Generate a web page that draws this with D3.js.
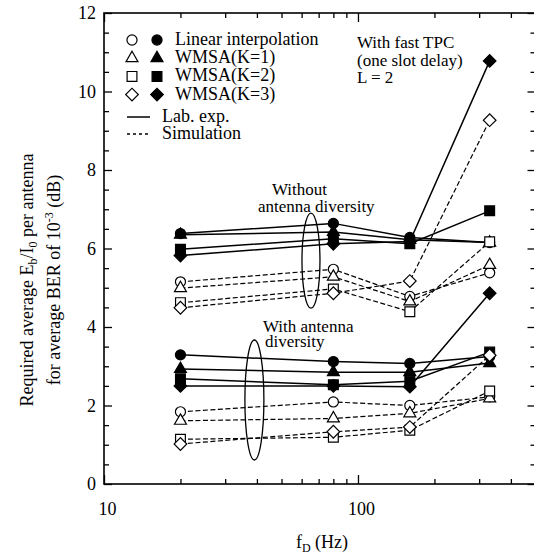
<!DOCTYPE html>
<html>
<head>
<meta charset="utf-8">
<script src="https://cdn.jsdelivr.net/npm/d3@7"></script>
<style>
  body { margin: 0; background: #fff; }
  svg { display: block; font-family: "Liberation Serif", "Times New Roman", serif; }
</style>
</head>
<body>
<div id="chart"></div>
<script>
// Doppler frequencies (Hz)
const fD = [20, 80, 160, 330];

// Without antenna diversity
const linLabNoDiv = [6.38, 6.64, 6.28, 6.15];
const k1LabNoDiv = [6.35, 6.42, 6.22, 6.15];
const k2LabNoDiv = [5.98, 6.25, 6.12, 6.96];
const k3LabNoDiv = [5.82, 6.12, 6.18, 10.78];
const linSimNoDiv = [5.15, 5.47, 4.78, 5.38];
const k1SimNoDiv = [4.99, 5.28, 4.65, 5.58];
const k2SimNoDiv = [4.62, 4.97, 4.39, 6.17];
const k3SimNoDiv = [4.49, 4.86, 5.17, 9.27];

// With antenna diversity
const linLabDiv = [3.29, 3.12, 3.07, 3.25];
const k1LabDiv = [2.93, 2.85, 2.85, 3.08];
const k2LabDiv = [2.68, 2.53, 2.62, 3.36];
const k3LabDiv = [2.50, 2.50, 2.48, 4.86];
const linSimDiv = [1.84, 2.09, 2.00, 2.22];
const k1SimDiv = [1.61, 1.67, 1.80, 2.18];
const k2SimDiv = [1.14, 1.19, 1.37, 2.37];
const k3SimDiv = [1.02, 1.33, 1.45, 3.28];

const methods = ["Linear interpolation", "WMSA(K=1)", "WMSA(K=2)", "WMSA(K=3)"];
const symbols = ["circle", "triangle", "square", "diamond"];
const xMajorTicks = [10, 100];
const xMinorTicks = [20, 30, 40, 50, 60, 70, 80, 90, 200, 300, 400];
const yMajorTicks = [0, 2, 4, 6, 8, 10, 12];

const labSeries = [
    [linLabNoDiv, k1LabNoDiv, k2LabNoDiv, k3LabNoDiv],
    [linLabDiv, k1LabDiv, k2LabDiv, k3LabDiv]
];
const simSeries = [
    [linSimNoDiv, k1SimNoDiv, k2SimNoDiv, k3SimNoDiv],
    [linSimDiv, k1SimDiv, k2SimDiv, k3SimDiv]
];

const W = 534, H = 554;
const margin = {top: 13, left: 104, bottom: 70, right: -1.5};
const width = W - margin.left - margin.right;
const height = H - margin.top - margin.bottom;

const svg = d3.select("#chart").append("svg")
    .attr("width", W)
    .attr("height", H);
const g = svg.append("g")
    .attr("transform", "translate(" + margin.left + "," + margin.top + ")");

const x = d3.scaleLog().domain([10, 500]).range([0, width]);
const y = d3.scaleLinear().domain([0, 12]).range([height, 0]);

const yMinorTicks = d3.range(0, 12.01, 0.5).filter(function (v) { return v % 2 !== 0; });

function styleAxis(sel) {
    sel.select(".domain").remove();
    sel.selectAll("line").attr("stroke", "#000").attr("stroke-width", 1.3);
    sel.selectAll("text").attr("fill", "#000").attr("font-size", 18)
        .attr("font-family", "Liberation Serif, serif");
}

// bottom axis
g.append("g").attr("transform", "translate(0," + height + ")")
    .call(d3.axisBottom(x).tickValues(xMajorTicks).tickFormat(d3.format("d"))
        .tickSizeInner(-9).tickSizeOuter(0).tickPadding(18))
    .call(styleAxis)
    .selectAll("text").attr("dx", 3);
g.append("g").attr("transform", "translate(0," + height + ")")
    .call(d3.axisBottom(x).tickValues(xMinorTicks).tickFormat("")
        .tickSizeInner(-5).tickSizeOuter(0))
    .call(styleAxis);
// top axis
g.append("g")
    .call(d3.axisTop(x).tickValues(xMajorTicks).tickFormat("").tickSizeInner(-9).tickSizeOuter(0))
    .call(styleAxis);
g.append("g")
    .call(d3.axisTop(x).tickValues(xMinorTicks).tickFormat("").tickSizeInner(-5).tickSizeOuter(0))
    .call(styleAxis);
// left axis
g.append("g")
    .call(d3.axisLeft(y).tickValues(yMajorTicks).tickSizeInner(-8).tickSizeOuter(0).tickPadding(8))
    .call(styleAxis);
g.append("g")
    .call(d3.axisLeft(y).tickValues(yMinorTicks).tickFormat("").tickSizeInner(-5).tickSizeOuter(0))
    .call(styleAxis);
// right axis
g.append("g").attr("transform", "translate(" + width + ",0)")
    .call(d3.axisRight(y).tickValues(yMajorTicks).tickFormat("").tickSizeInner(-8).tickSizeOuter(0))
    .call(styleAxis);
g.append("g").attr("transform", "translate(" + width + ",0)")
    .call(d3.axisRight(y).tickValues(yMinorTicks).tickFormat("").tickSizeInner(-5).tickSizeOuter(0))
    .call(styleAxis);

// frame
g.append("rect")
    .attr("width", width).attr("height", height)
    .attr("fill", "none").attr("stroke", "#000").attr("stroke-width", 1.6);

// markers
const symbolTypes = {
    circle: {type: d3.symbolCircle, size: 80, rot: 0},
    triangle: {type: d3.symbolTriangle, size: 62, rot: 0},
    square: {type: d3.symbolSquare, size: 96, rot: 0},
    diamond: {type: d3.symbolSquare, size: 80, rot: 45}
};

function drawMarkers(sel, vals, sym, filled, cx, cy) {
    let s = symbolTypes[sym];
    sel.append("path")
        .attr("d", d3.symbol().type(s.type).size(s.size)())
        .attr("transform", "translate(" + cx + "," + cy + ") rotate(" + s.rot + ")")
        .attr("fill", filled ? "#000" : "#fff")
        .attr("stroke", "#000")
        .attr("stroke-width", 1.2);
}

const line = d3.line()
    .x(function (d) { return x(d[0]); })
    .y(function (d) { return y(d[1]); });

function drawSeries(vals, sym, filled) {
    let pts = fD.map(function (f, i) { return [f, vals[i]]; });
    g.append("path")
        .datum(pts)
        .attr("fill", "none")
        .attr("stroke", "#000")
        .attr("stroke-width", filled ? 1.5 : 1.2)
        .attr("stroke-dasharray", filled ? null : "5,2.5")
        .attr("d", line);
    pts.forEach(function (p) {
        drawMarkers(g, vals, sym, filled, x(p[0]), y(p[1]));
    });
}

labSeries.forEach(function (grp) {
    grp.forEach(function (vals, i) { drawSeries(vals, symbols[i], true); });
});
simSeries.forEach(function (grp) {
    grp.forEach(function (vals, i) { drawSeries(vals, symbols[i], false); });
});

// ellipses marking the groups
g.append("ellipse")
    .attr("cx", x(65.3)).attr("cy", y(5.69)).attr("rx", 9).attr("ry", 47.5)
    .attr("fill", "none").attr("stroke", "#000").attr("stroke-width", 1.3);
g.append("ellipse")
    .attr("cx", x(39.1)).attr("cy", y(2.14)).attr("rx", 9.5).attr("ry", 60)
    .attr("fill", "none").attr("stroke", "#000").attr("stroke-width", 1.3);

// annotations
function label(txt, px, py, size) {
    svg.append("text")
        .attr("x", px).attr("y", py)
        .attr("font-size", size || 17)
        .attr("fill", "#000")
        .text(txt);
}
label("Without", 272, 195);
label("antenna diversity", 258, 212);
label("With antenna", 263, 332);
label("diversity", 265, 347);
label("With fast TPC", 357, 48);
label("(one slot delay)", 357, 66);
label("L = 2", 357, 83);

// legend
const legend = svg.append("g");
methods.forEach(function (m, i) {
    let cy = 40 + i * 18.2;
    drawMarkers(legend, null, symbols[i], false, 132, cy);
    drawMarkers(legend, null, symbols[i], true, 157, cy);
    legend.append("text").attr("x", 175).attr("y", cy + 5)
        .attr("font-size", 18).text(m);
});
legend.append("line").attr("x1", 127).attr("x2", 150).attr("y1", 117).attr("y2", 117)
    .attr("stroke", "#000").attr("stroke-width", 1.5);
legend.append("line").attr("x1", 127).attr("x2", 150).attr("y1", 134).attr("y2", 134)
    .attr("stroke", "#000").attr("stroke-width", 1.3).attr("stroke-dasharray", "3,3");
legend.append("text").attr("x", 162).attr("y", 122).attr("font-size", 18).text("Lab. exp.");
legend.append("text").attr("x", 162).attr("y", 139).attr("font-size", 18).text("Simulation");

// axis titles
const xt = svg.append("text")
    .attr("x", 322).attr("y", 548)
    .attr("text-anchor", "middle").attr("font-size", 18);
xt.append("tspan").text("f");
xt.append("tspan").attr("font-size", 12).attr("dy", 4).text("D");
xt.append("tspan").attr("dy", -4).text(" (Hz)");

const yt1 = svg.append("text")
    .attr("transform", "translate(33,280) rotate(-90)")
    .attr("text-anchor", "middle").attr("font-size", 18);
yt1.append("tspan").text("Required average E");
yt1.append("tspan").attr("font-size", 12).attr("dy", 4).text("b");
yt1.append("tspan").attr("dy", -4).text("/I");
yt1.append("tspan").attr("font-size", 12).attr("dy", 4).text("0");
yt1.append("tspan").attr("dy", -4).text(" per antenna");

const yt2 = svg.append("text")
    .attr("transform", "translate(60,280) rotate(-90)")
    .attr("text-anchor", "middle").attr("font-size", 18);
yt2.append("tspan").text("for average BER of 10");
yt2.append("tspan").attr("font-size", 12).attr("dy", -7).text("-3");
yt2.append("tspan").attr("dy", 7).text(" (dB)");
</script>
</body>
</html>
